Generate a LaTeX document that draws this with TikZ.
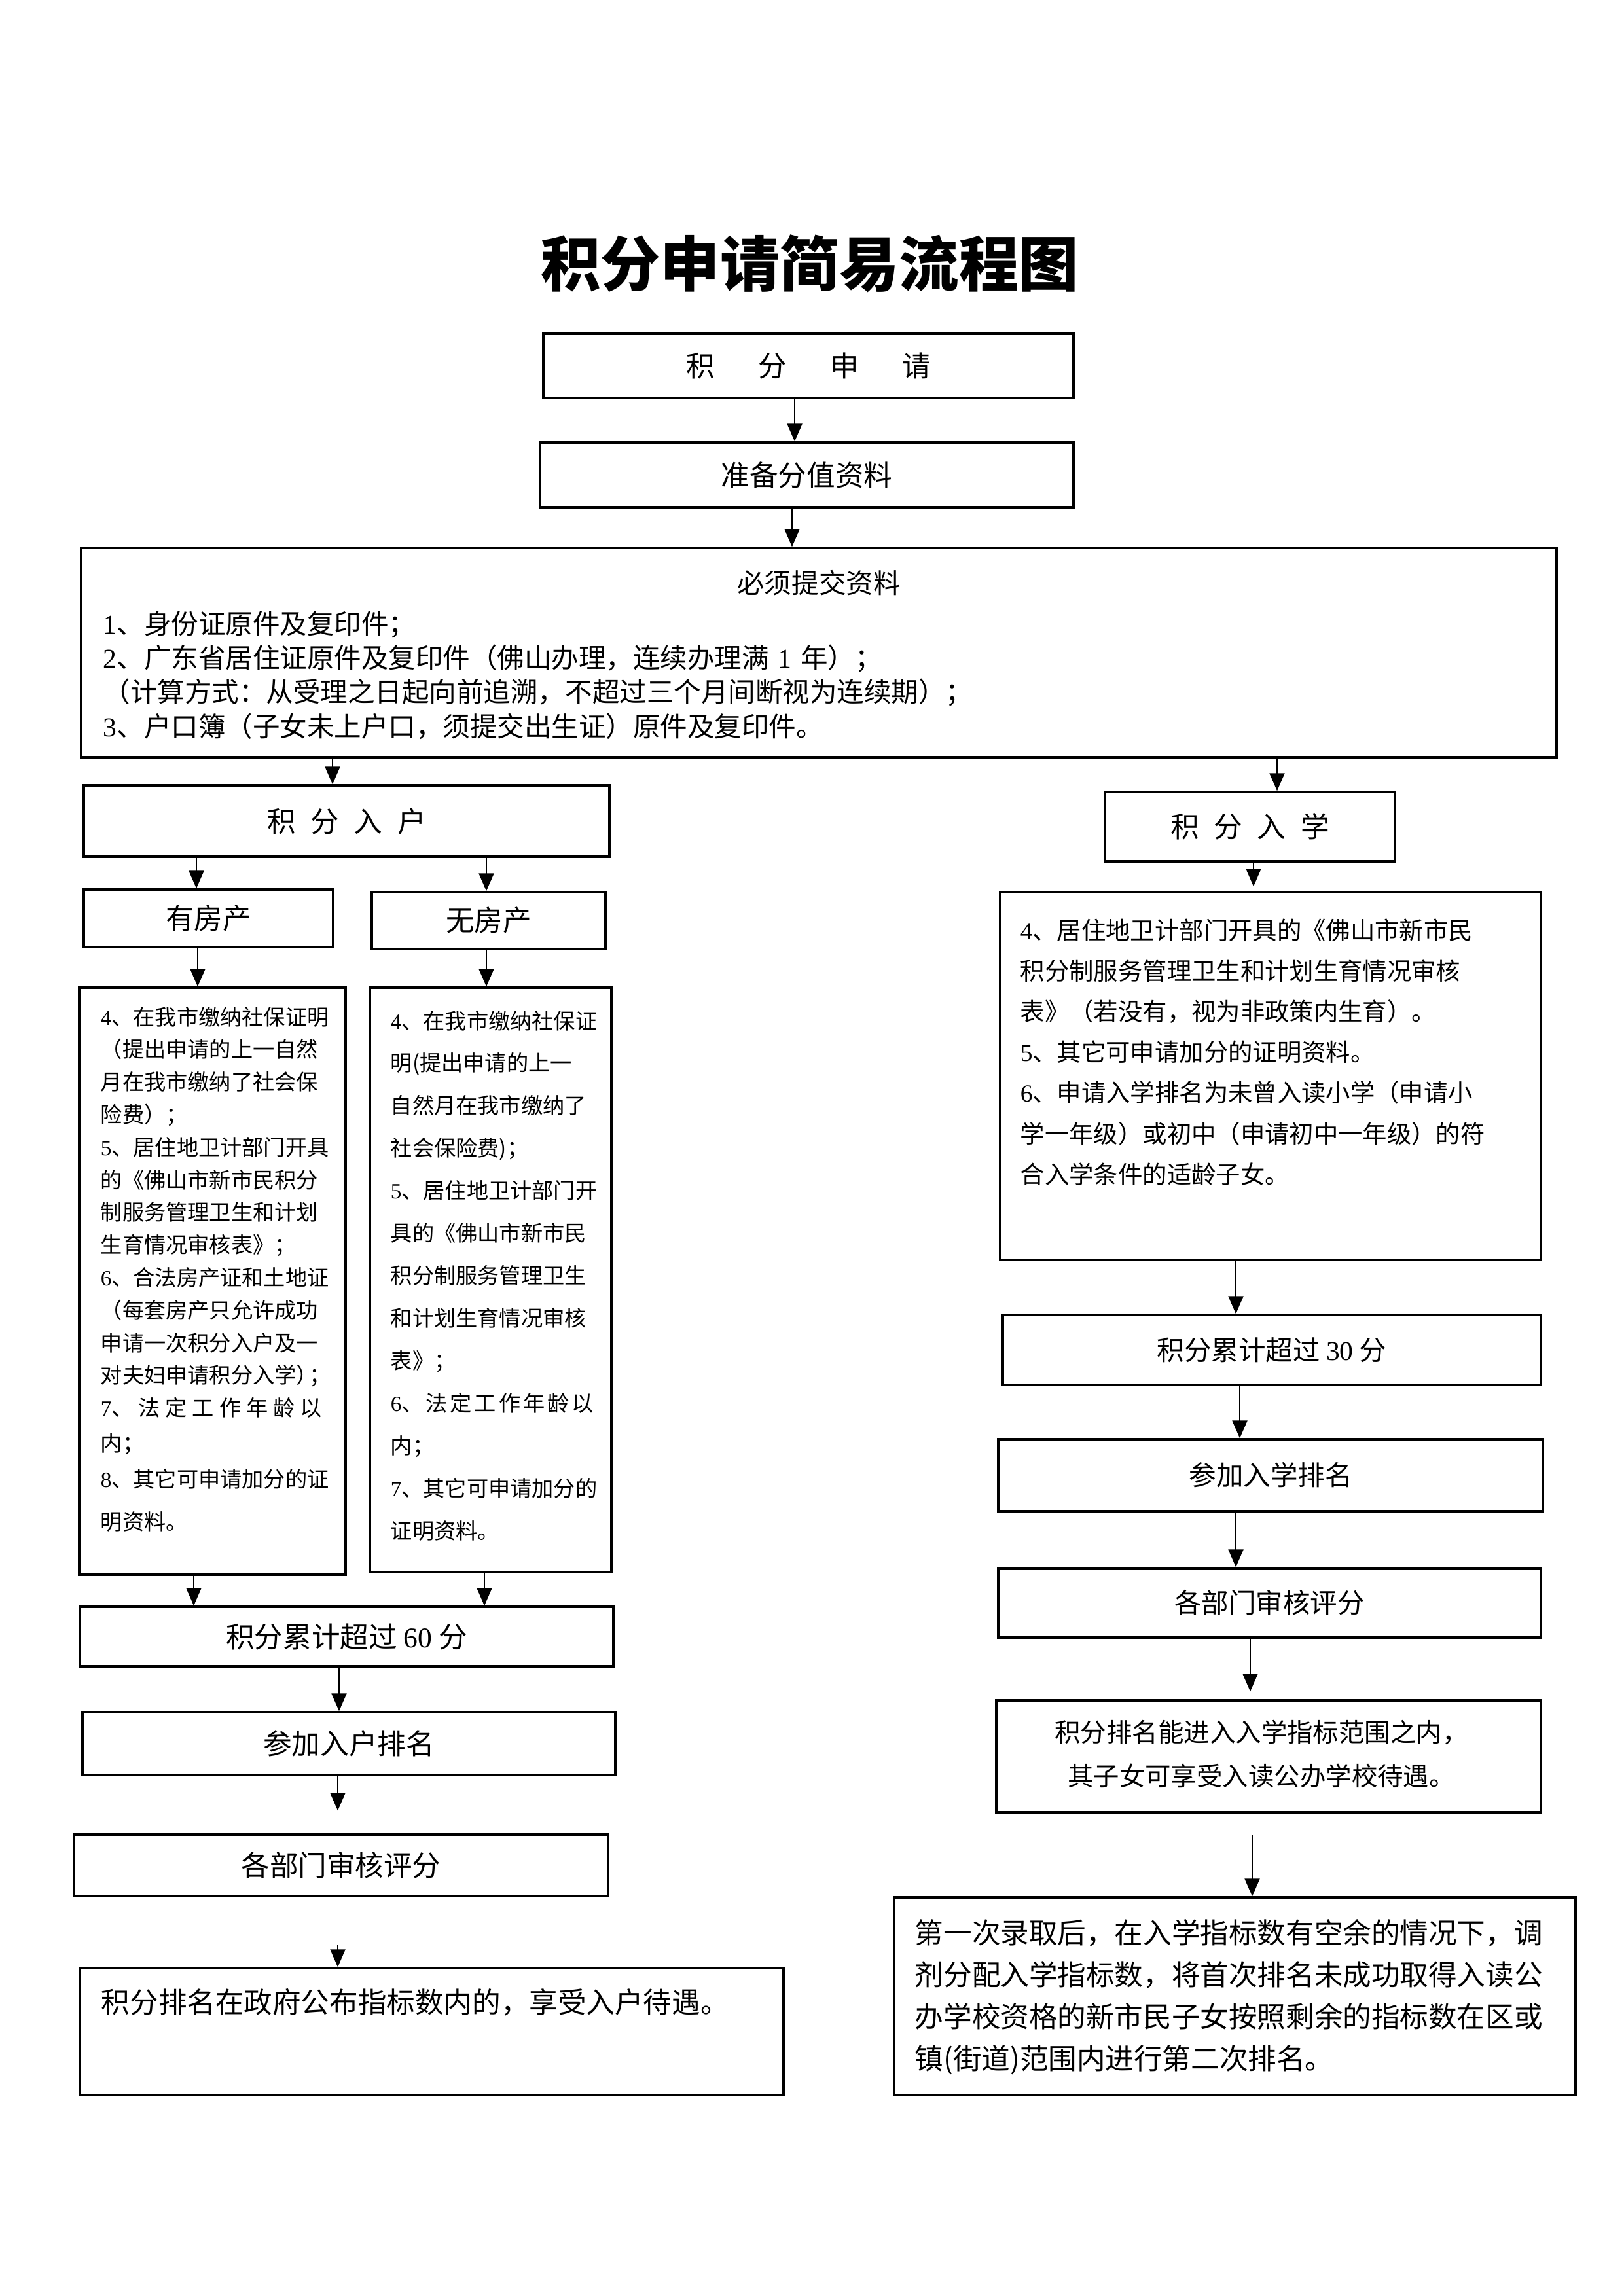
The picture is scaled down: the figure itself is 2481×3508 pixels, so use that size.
\documentclass[tikz,border=0pt]{standalone}
\usepackage{fontspec}
\setmainfont{Noto Sans CJK SC}
\newfontfamily\tnr{Liberation Serif}
\newcommand\dg[1]{{\tnr #1}}
\newcommand\fs[2]{\fontsize{#1}{#2}\selectfont}
\usetikzlibrary{arrows.meta}
\newdimen\pxu \pxu=0.0846667mm
\tikzset{
  bx/.style 2 args={draw, line width=0.8pt, inner sep=0pt, minimum width=#1\pxu, minimum height=#2\pxu},
  txt/.style={inner sep=0pt, align=left},
  arr/.style={line width=0.6pt, -{Triangle[length=6.5pt,width=5.5pt]}}
}
\begin{document}
\begin{tikzpicture}[x=0.0846667mm, y=-0.0846667mm]
\path[fill=white] (0,0) rectangle (2481,3508);
\useasboundingbox (0,0) rectangle (2481,3508);

% title
\node[font=\bfseries\fs{22pt}{26pt}] (title) at (1237,403) {积分申请简易流程图};

% top chain
\node[bx={810}{98}, font=\fs{10.5pt}{12pt}] (b1) at (1235,559) {积\hspace{16pt}分\hspace{16pt}申\hspace{16pt}请};
\node[bx={815}{99}, font=\fs{10.5pt}{12pt}] (b2) at (1232.5,725.5) {准备分值资料};
\node[bx={2254}{320}] (b3) at (1251,997) {};
\node[inner sep=0pt, font=\fs{10pt}{12pt}] (b3t) at (1251,891) {必须提交资料};
\node[txt, anchor=north west, text width=2200\pxu, font=\fs{10pt}{12.6pt}] (b3l) at (157,926) {\rule{0pt}{1em}\dg{1}、身份证原件及复印件；\\
\dg{2}、广东省居住证原件及复印件（佛山办理，连续办理满 \dg{1} 年）；\\
（计算方式：从受理之日起向前追溯，不超过三个月间断视为连续期）；\\
\dg{3}、户口簿（子女未上户口，须提交出生证）原件及复印件。};

% left branch
\node[bx={803}{109}, font=\fs{10.5pt}{12pt}] (bH) at (529.5,1254.5) {积\hspace{5.5pt}分\hspace{5.5pt}入\hspace{5.5pt}户};
\node[bx={381}{88}, font=\fs{10.5pt}{12pt}] (bY) at (318.5,1403) {有房产};
\node[bx={357}{87}, font=\fs{10.5pt}{12pt}] (bW) at (746.5,1406.5) {无房产};
\node[bx={407}{897}] (dY) at (324.5,1957.5) {};
\node[txt, anchor=north west, text width=370\pxu, font=\fs{8pt}{12pt}] (dYt) at (153,1532) {\rule{0pt}{1em}\dg{4}、在我市缴纳社保证明\\
（提出申请的上一自然\\
月在我市缴纳了社会保\\
险费）；\\
\dg{5}、居住地卫计部门开具\\
的《佛山市新市民积分\\
制服务管理卫生和计划\\
生育情况审核表》；\\
\dg{6}、合法房产证和土地证\\
（每套房产只允许成功\\
申请一次积分入户及一\\
对夫妇申请积分入学）\kern-0.4em；\\
\makebox[338\pxu][s]{\dg{7}、\hfill 法\hfill 定\hfill 工\hfill 作\hfill 年\hfill 龄\hfill 以}\\[1pt]
内；\\[1.3pt]
\dg{8}、其它可申请加分的证\\[3.5pt]
明资料。};
\node[bx={369}{893}] (dW) at (749.5,1955.5) {};
\node[txt, anchor=north west, text width=335\pxu, font=\fs{8pt}{15.64pt}] (dWt) at (596,1538) {\rule{0pt}{1em}\dg{4}、在我市缴纳社保证\\
明(提出申请的上一\\
自然月在我市缴纳了\\
社会保险费)；\\
\dg{5}、居住地卫计部门开\\
具的《佛山市新市民\\
积分制服务管理卫生\\
和计划生育情况审核\\
表》；\\
\makebox[310\pxu][s]{\dg{6}、\hfill 法\hfill 定\hfill 工\hfill 作\hfill 年\hfill 龄\hfill 以}\\
内；\\
\dg{7}、其它可申请加分的\\
证明资料。};
\node[bx={815}{91}, font=\fs{10.5pt}{12pt}] (s60) at (529.5,2500.5) {积分累计超过 \dg{60} 分};
\node[bx={814}{96}, font=\fs{10.5pt}{12pt}] (rankH) at (533,2664) {参加入户排名};
\node[bx={816}{94}, font=\fs{10.5pt}{12pt}] (audH) at (521,2850) {各部门审核评分};
\node[bx={1075}{194}] (endH) at (659.5,3104) {};
\node[txt, anchor=north west, text width=1030\pxu, font=\fs{10.5pt}{12pt}] (endHt) at (154,3031) {\rule{0pt}{1em}积分排名在政府公布指标数内的，享受入户待遇。};

% right branch
\node[bx={443}{106}, font=\fs{10.5pt}{12pt}] (bS) at (1909.5,1263) {积\hspace{5.5pt}分\hspace{5.5pt}入\hspace{5.5pt}学};
\node[bx={826}{562}] (dS) at (1941,1644) {};
\node[txt, anchor=north west, text width=780\pxu, font=\fs{9pt}{14.98pt}] (dSt) at (1558,1397) {\rule{0pt}{1em}\dg{4}、居住地卫计部门开具的《佛山市新市民\\
积分制服务管理卫生和计划生育情况审核\\
表》（若没有，视为非政策内生育）。\\
\dg{5}、其它可申请加分的证明资料。\\
\dg{6}、申请入学排名为未曾入读小学（申请小\\
学一年级）或初中（申请初中一年级）的符\\
合入学条件的适龄子女。};
\node[bx={822}{107}, font=\fs{10pt}{12pt}] (s30) at (1943,2062.5) {积分累计超过 \dg{30} 分};
\node[bx={832}{110}, font=\fs{10pt}{12pt}] (rankS) at (1941,2254) {参加入学排名};
\node[bx={829}{106}, font=\fs{10pt}{12pt}] (audS) at (1939.5,2449) {各部门审核评分};
\node[bx={832}{171}] (okS) at (1938,2683.5) {};
\node[inner sep=0pt, align=center, anchor=north, text width=800\pxu, font=\fs{9.5pt}{16.1pt}] (okSt) at (1927,2621.5) {\rule{0pt}{1em}积分排名能进入入学指标范围之内，\\其子女可享受入读公办学校待遇。};
\node[bx={1041}{302}] (endS) at (1886.5,3050) {};
\node[txt, anchor=north west, text width=1000\pxu, font=\fs{10.5pt}{15.4pt}] (endSt) at (1397,2925) {\rule{0pt}{1em}第一次录取后，在入学指标数有空余的情况下，调\\
剂分配入学指标数，将首次排名未成功取得入读公\\
办学校资格的新市民子女按照剩余的指标数在区或\\
镇(街道)范围内进行第二次排名。};

% connectors
\draw[arr] (b1.south -| 1214,0) -- (b2.north -| 1214,0);
\draw[arr] (b2.south -| 1210,0) -- (b3.north -| 1210,0);
\draw[arr] (b3.south -| 508,0) -- (bH.north -| 508,0);
\draw[arr] (b3.south -| 1951,0) -- (bS.north -| 1951,0);
\draw[arr] (bH.south -| 300,0) -- (bY.north -| 300,0);
\draw[arr] (bH.south -| 743,0) -- (bW.north -| 743,0);
\draw[arr] (bY.south -| 302,0) -- (dY.north -| 302,0);
\draw[arr] (bW.south -| 743,0) -- (dW.north -| 743,0);
\draw[arr] (dY.south -| 296,0) -- (s60.north -| 296,0);
\draw[arr] (dW.south -| 740,0) -- (s60.north -| 740,0);
\draw[arr] (s60.south -| 518,0) -- (rankH.north -| 518,0);
\draw[arr, shorten >=35\pxu] (rankH.south -| 516,0) -- (audH.north -| 516,0);
\draw[arr, shorten <=72\pxu] (audH.south -| 516,0) -- (endH.north -| 516,0);
\draw[arr, shorten >=7\pxu] (bS.south -| 1915,0) -- (dS.north -| 1915,0);
\draw[arr] (dS.south -| 1888,0) -- (s30.north -| 1888,0);
\draw[arr] (s30.south -| 1894,0) -- (rankS.north -| 1894,0);
\draw[arr] (rankS.south -| 1888,0) -- (audS.north -| 1888,0);
\draw[arr, shorten >=12\pxu] (audS.south -| 1910,0) -- (okS.north -| 1910,0);
\draw[arr, shorten <=33\pxu] (okS.south -| 1913,0) -- (endS.north -| 1913,0);
\end{tikzpicture}
\end{document}
